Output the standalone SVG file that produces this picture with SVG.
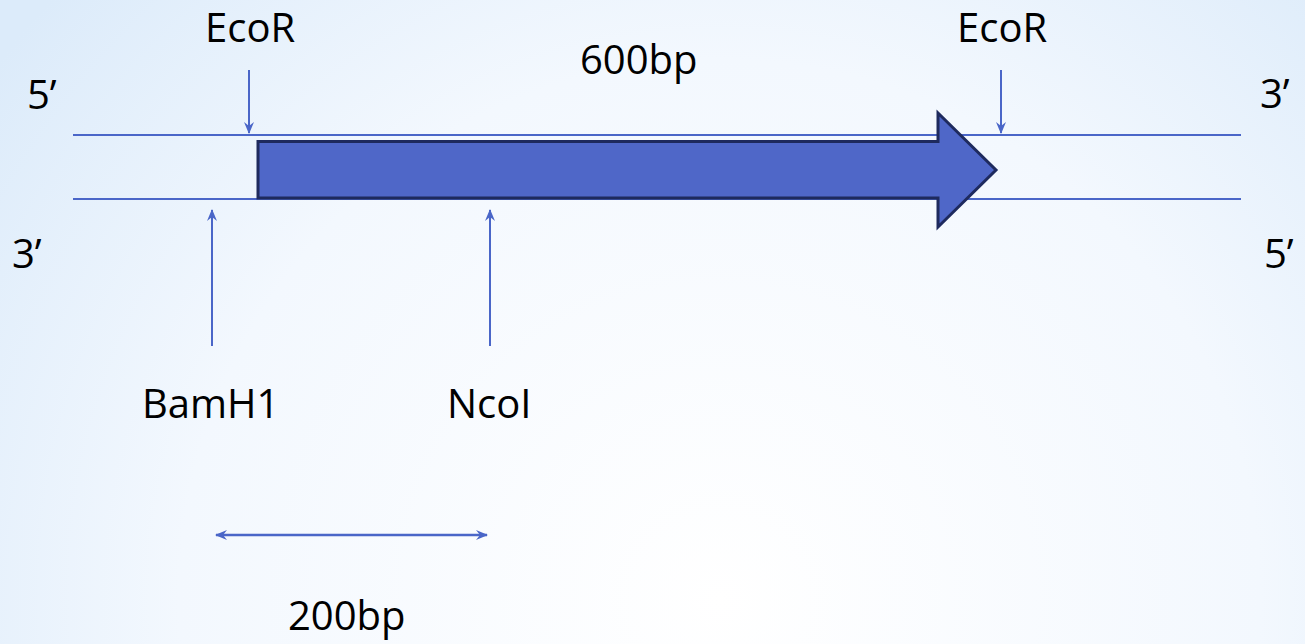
<svg xmlns="http://www.w3.org/2000/svg" width="1305" height="644" viewBox="0 0 1305 644">
<defs>
<radialGradient id="bg" cx="720" cy="600" r="900" gradientUnits="userSpaceOnUse">
<stop offset="0" stop-color="#ffffff"/>
<stop offset="0.6" stop-color="#f3f8fe"/>
<stop offset="1" stop-color="#dcebfa"/>
</radialGradient>
<marker id="ah" viewBox="0 0 12 10" refX="11" refY="5" markerWidth="12" markerHeight="10" orient="auto-start-reverse" markerUnits="userSpaceOnUse">
<path d="M0,0 L12,5 L0,10 L4,5 Z" fill="#4a66c8"/>
</marker>
<style>
text{font-family:"Open Sans","Liberation Sans",sans-serif;font-size:40px;fill:#000}
.strand{stroke:#4a66c8;stroke-width:2.2;fill:none}
.arr{stroke:#4a66c8;stroke-width:2;fill:none;marker-end:url(#ah)}
.dbl{stroke:#4a66c8;stroke-width:2.5;fill:none;marker-start:url(#ah);marker-end:url(#ah)}
</style>
</defs>
<rect width="1305" height="644" fill="url(#bg)"/>
<g id="dna">
<line class="strand" x1="73" y1="135" x2="1241" y2="135"/>
<line class="strand" x1="73" y1="199" x2="1241" y2="199"/>
</g>
<g id="gene">
<polygon points="258,141.5 938,141.5 938,113 996,170 938,227 938,198 258,198" fill="#4f67c8" stroke="#1e2a5e" stroke-width="3" stroke-linejoin="miter"/>
</g>
<g id="connectors">
<line class="arr" x1="249" y1="70" x2="249" y2="133"/>
<line class="arr" x1="1001" y1="70" x2="1001" y2="133"/>
<line class="arr" x1="212" y1="346" x2="212" y2="210"/>
<line class="arr" x1="490" y1="346" x2="490" y2="210"/>
<line class="dbl" x1="216" y1="535" x2="487" y2="535"/>
</g>
<g id="label-5prime-left"><text x="27" y="109">5’</text></g>
<g id="label-3prime-left"><text x="12" y="268">3’</text></g>
<g id="label-3prime-right"><text x="1260" y="108">3’</text></g>
<g id="label-5prime-right"><text x="1264" y="268">5’</text></g>
<g id="label-ecor-left"><text x="205" y="42">EcoR</text></g>
<g id="label-ecor-right"><text x="957" y="42">EcoR</text></g>
<g id="label-600bp"><text x="580" y="74">600bp</text></g>
<g id="label-bamh1"><text x="142" y="418">BamH1</text></g>
<g id="label-ncoi"><text x="447" y="418">NcoI</text></g>
<g id="label-200bp"><text x="288" y="630">200bp</text></g>
</svg>
